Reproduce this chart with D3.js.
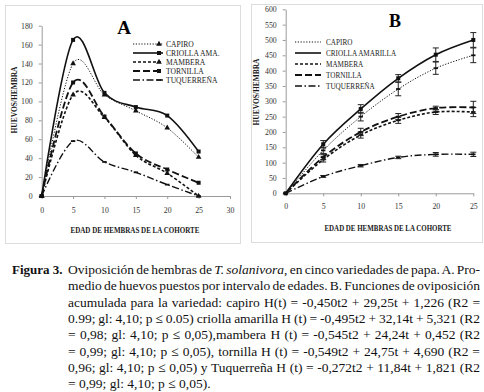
<!DOCTYPE html>
<html>
<head>
<meta charset="utf-8">
<script src="https://cdn.jsdelivr.net/npm/d3@7"></script>
<style>
  body { margin: 0; background: #fff; }
  svg { display: block; font-family: "Liberation Serif", serif; }
  svg text { font-family: "Liberation Serif", serif; }
</style>
</head>
<body>
<svg width="484" height="392"></svg>
<script>
// ---- data ----
var edad = [0, 5, 10, 15, 20, 25];

// A: huevos por intervalo de edad
var capiroA = [0, 140, 107, 90, 72, 41];
var criollaA = [0, 165, 109, 94, 85, 47];
var mamberaA = [0, 107, 83, 43, 24, 0];
var tornillaA = [0, 120, 84, 45, 28, 14];
var tuquerrenaA = [0, 58, 36, 25, 12, 0];

// B: oviposicion acumulada (+ error)
var capiroB = [0, 140, 250, 340, 408, 450];
var criollaB = [0, 160, 275, 375, 452, 500];
var mamberaB = [0, 110, 190, 238, 265, 265];
var tornillaB = [0, 118, 200, 250, 278, 280];
var tuquerrenaB = [0, 55, 90, 117, 127, 127];
var capiroErr = [0, 10, 14, 22, 20, 24];
var criollaErr = [0, 12, 14, 12, 22, 24];
var mamberaErr = [0, 8, 10, 10, 8, 15];
var tornillaErr = [0, 8, 12, 10, 6, 20];
var tuquerrenaErr = [0, 3, 4, 4, 6, 7];

var legendA = ["CAPIRO", "CRIOLLA AMA.", "MAMBERA", "TORNILLA", "TUQUERREÑA"];
var legendB = ["CAPIRO", "CRIOLLA AMARILLA", "MAMBERA", "TORNILLA", "TUQUERREÑA"];

var ticksXA = [0, 5, 10, 15, 20, 25, 30];
var ticksYA = [0, 20, 40, 60, 80, 100, 120, 140, 160, 180];
var ticksXB = [0, 5, 10, 15, 20, 25];
var ticksYB = [0, 50, 100, 150, 200, 250, 300, 350, 400, 450, 500, 550, 600];

var caption = [
    ["Oviposición de hembras de ", "T. solanivora", ", en cinco variedades de papa. A. Pro-"],
    ["medio de huevos puestos por intervalo de edades. B. Funciones de oviposición"],
    ["acumulada para la variedad: capiro H(t) = -0,450t2 + 29,25t + 1,226 (R2 ="],
    ["0.99; gl: 4,10; p ≤ 0.05) criolla amarilla H (t) = -0,495t2 + 32,14t + 5,321 (R2"],
    ["= 0,98; gl: 4,10; p ≤ 0,05),mambera H (t) = -0,545t2 + 24,24t + 0,452 (R2"],
    ["= 0,99; gl: 4,10; p ≤ 0,05), tornilla H (t) = -0,549t2 + 24,75t + 4,690 (R2 ="],
    ["0,96; gl: 4,10; p ≤ 0,05) y Tuquerreña H (t) = -0,272t2 + 11,84t + 1,821 (R2"],
    ["= 0,99; gl: 4,10; p ≤ 0,05)."]
];

// line styles per variety (capiro, criolla, mambera, tornilla, tuquerreña)
var dashes = ["1.2,1.6", null, "3,2", "7,3", "7,2.5,1.5,2.5"];
var widths = [1, 1.6, 1.6, 1.8, 1.4];
var markersA = ["triangle", "square", "triangle", "square", "dash"];

var svg = d3.select("svg");

// panel frames
svg.append("rect").attr("x", 5.5).attr("y", 5.5).attr("width", 235).attr("height", 238)
    .attr("fill", "#fff").attr("stroke", "#dcdcdc");
svg.append("rect").attr("x", 251.5).attr("y", 4.5).attr("width", 231).attr("height", 238)
    .attr("fill", "#fff").attr("stroke", "#dcdcdc");

var curve = d3.curveCardinal.tension(0);

function marker(g, type, x, y) {
    if (type == "square") {
        g.append("rect").attr("x", x - 2).attr("y", y - 2).attr("width", 4).attr("height", 4).attr("fill", "#111");
    } else if (type == "triangle") {
        g.append("path").attr("d", d3.symbol(d3.symbolTriangle, 14)()).attr("transform", "translate(" + x + "," + y + ")").attr("fill", "#111");
    } else {
        g.append("rect").attr("x", x - 2.2).attr("y", y - 0.9).attr("width", 4.4).attr("height", 1.8).attr("fill", "#111");
    }
}

function styleAxis(g) {
    g.selectAll(".domain").attr("stroke", "#9a9a9a");
    g.selectAll(".tick line").attr("stroke", "#9a9a9a");
    g.attr("font-family", null);
    g.selectAll("text").attr("font-size", 7.8).attr("fill", "#333");
}

function title(x, y, rot, len, txt) {
    svg.append("text").attr("transform", "translate(" + x + "," + y + ") rotate(" + rot + ")")
        .attr("text-anchor", "middle").attr("font-weight", "bold").attr("font-size", 7.4)
        .attr("textLength", len).attr("lengthAdjust", "spacingAndGlyphs")
        .attr("fill", "#1a1a1a").text(txt);
}

// ================= Panel A =================
var xA = d3.scaleLinear().domain([0, 30]).range([41.7, 230]);
var yA = d3.scaleLinear().domain([0, 180]).range([196, 25.7]);

svg.append("g").attr("transform", "translate(0,196)")
    .call(d3.axisBottom(xA).tickValues(ticksXA).tickSize(3).tickSizeOuter(0).tickPadding(8))
    .call(styleAxis);
svg.append("g").attr("transform", "translate(41.7,0)")
    .call(d3.axisLeft(yA).tickValues(ticksYA).tickSize(3).tickSizeOuter(0).tickPadding(6))
    .call(styleAxis);

var seriesA = [capiroA, criollaA, mamberaA, tornillaA, tuquerrenaA];
var lineA = d3.line().x((d, i) => xA(edad[i])).y(d => yA(d)).curve(curve);
var gA = svg.append("g");
seriesA.forEach(function(s, k) {
    gA.append("path").datum(s).attr("d", lineA)
        .attr("fill", "none").attr("stroke", "#111")
        .attr("stroke-width", widths[k])
        .attr("stroke-dasharray", dashes[k]);
    s.forEach(function(v, i) { marker(gA, markersA[k], xA(edad[i]), yA(v)); });
});

svg.append("text").attr("x", 124).attr("y", 34).attr("text-anchor", "middle")
    .attr("font-weight", "bold").attr("font-size", 19).text("A");

// legend A
var legA = svg.append("g");
legendA.forEach(function(name, k) {
    var y = 44 + k * 9;
    legA.append("line").attr("x1", 133).attr("x2", 163).attr("y1", y).attr("y2", y)
        .attr("stroke", "#111").attr("stroke-width", widths[k]).attr("stroke-dasharray", dashes[k]);
    marker(legA, markersA[k], 159, y);
    legA.append("text").attr("x", 166).attr("y", y + 2.7)
        .attr("font-size", 7.6).attr("fill", "#222").text(name);
});

title(135, 232.5, 0, 129, "EDAD DE HEMBRAS DE LA COHORTE");
title(16.5, 100, -90, 67, "HUEVOS/HEMBRA");

// ================= Panel B =================
var xB = d3.scaleLinear().domain([0, 25]).range([285.7, 473.3]);
var yB = d3.scaleLinear().domain([0, 600]).range([193.3, 9.3]);

svg.append("g").attr("transform", "translate(0,193.3)")
    .call(d3.axisBottom(xB).tickValues(ticksXB).tickSize(3).tickSizeOuter(0).tickPadding(7))
    .call(styleAxis);
svg.append("g").attr("transform", "translate(285.7,0)")
    .call(d3.axisLeft(yB).tickValues(ticksYB).tickSize(3).tickSizeOuter(0).tickPadding(6))
    .call(styleAxis);

var seriesB = [capiroB, criollaB, mamberaB, tornillaB, tuquerrenaB];
var errB = [capiroErr, criollaErr, mamberaErr, tornillaErr, tuquerrenaErr];
var markersB = ["dash", "square", "dash", "dash", "dash"];
var lineB = d3.line().x((d, i) => xB(edad[i])).y(d => yB(d)).curve(curve);
var gB = svg.append("g");
seriesB.forEach(function(s, k) {
    gB.append("path").datum(s).attr("d", lineB)
        .attr("fill", "none").attr("stroke", "#111")
        .attr("stroke-width", widths[k])
        .attr("stroke-dasharray", dashes[k]);
    s.forEach(function(v, i) {
        var e = errB[k][i];
        if (e > 0) {
            var x = xB(edad[i]);
            gB.append("line").attr("x1", x).attr("x2", x).attr("y1", yB(v - e)).attr("y2", yB(v + e))
                .attr("stroke", "#222").attr("stroke-width", 1);
            [v - e, v + e].forEach(function(c) {
                gB.append("line").attr("x1", x - 3).attr("x2", x + 3).attr("y1", yB(c)).attr("y2", yB(c))
                    .attr("stroke", "#222").attr("stroke-width", 1);
            });
        }
        marker(gB, markersB[k], xB(edad[i]), yB(v));
    });
});

svg.append("text").attr("x", 395).attr("y", 27).attr("text-anchor", "middle")
    .attr("font-weight", "bold").attr("font-size", 18).text("B");

var legB = svg.append("g");
legendB.forEach(function(name, k) {
    var y = 42 + k * 11;
    legB.append("line").attr("x1", 295).attr("x2", 321).attr("y1", y).attr("y2", y)
        .attr("stroke", "#111").attr("stroke-width", widths[k]).attr("stroke-dasharray", dashes[k]);
    legB.append("text").attr("x", 326).attr("y", y + 2.6)
        .attr("font-size", 7.2).attr("fill", "#222").text(name);
});

title(388, 231, 0, 127, "EDAD DE HEMBRAS DE LA COHORTE");
title(259, 92, -90, 67, "HUEVOS/HEMBRA");

// ================= Caption =================
var cap = svg.append("g").attr("font-size", 13.5).attr("fill", "#111");
cap.append("text").attr("x", 12).attr("y", 274).attr("font-weight", "bold").attr("font-size", 13).text("Figura 3.");
caption.forEach(function(parts, i) {
    var t = cap.append("text").attr("x", 68).attr("y", 274 + i * 16.35);
    parts.forEach(function(p, j) {
        t.append("tspan").attr("font-style", (i == 0 && j == 1) ? "italic" : null).text(p);
    });
    // justify all lines except the last one
    if (i < caption.length - 1) {
        var w = t.node().getComputedTextLength();
        var spaces = parts.join("").split(" ").length - 1;
        t.attr("word-spacing", (412 - w) / spaces);
    }
});
</script>
</body>
</html>
